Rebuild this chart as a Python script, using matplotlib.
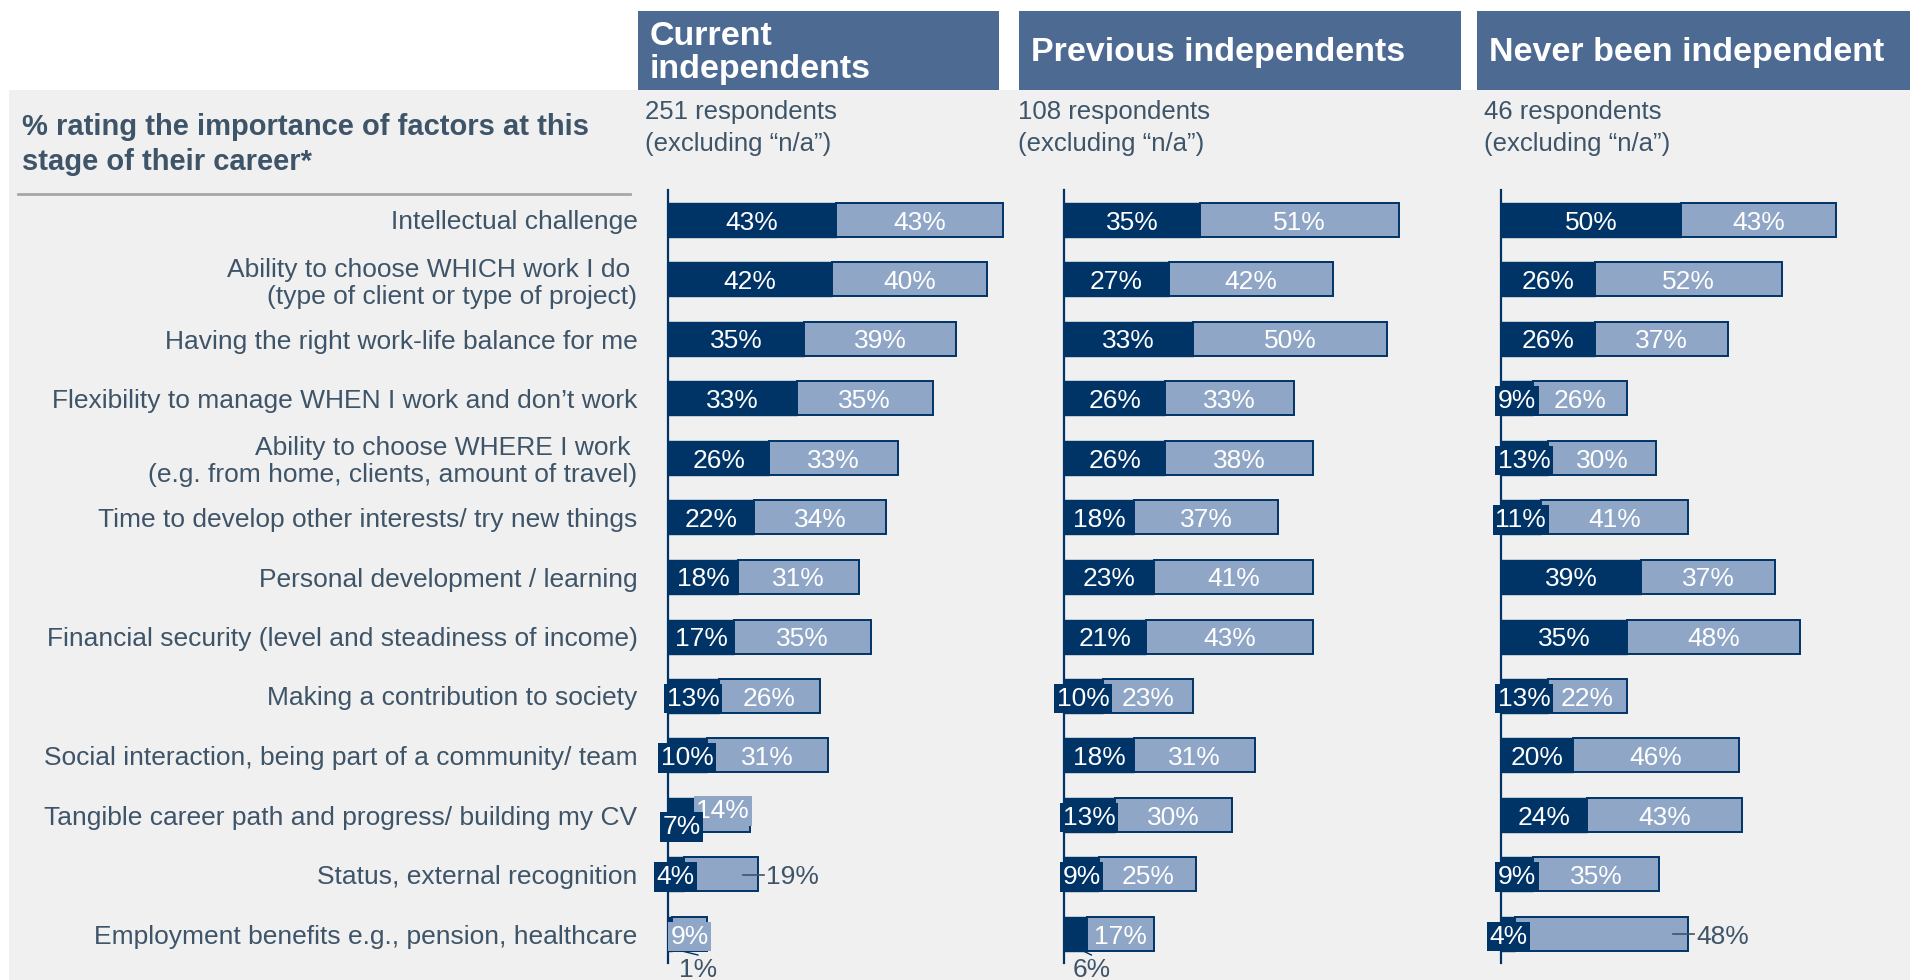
import matplotlib.pyplot as plt
from matplotlib.patches import Rectangle

plt.rcParams['font.family'] = ['Liberation Sans', 'DejaVu Sans']

factors = [
    'Intellectual challenge',
    'Ability to choose WHICH work I do \n(type of client or type of project)',
    'Having the right work-life balance for me',
    'Flexibility to manage WHEN I work and don’t work',
    'Ability to choose WHERE I work \n(e.g. from home, clients, amount of travel)',
    'Time to develop other interests/ try new things',
    'Personal development / learning',
    'Financial security (level and steadiness of income)',
    'Making a contribution to society',
    'Social interaction, being part of a community/ team',
    'Tangible career path and progress/ building my CV',
    'Status, external recognition',
    'Employment benefits e.g., pension, healthcare',
]
groups = ['Current\nindependents', 'Previous independents', 'Never been independent']
respondents = [251, 108, 46]

# dark segment (first share) and light segment (second share), per group
dark_vals = [
    [43, 42, 35, 33, 26, 22, 18, 17, 13, 10, 7, 4, 1],
    [35, 27, 33, 26, 26, 18, 23, 21, 10, 18, 13, 9, 6],
    [50, 26, 26, 9, 13, 11, 39, 35, 13, 20, 24, 9, 4],
]
light_vals = [
    [43, 40, 39, 35, 33, 34, 31, 35, 26, 31, 14, 19, 9],
    [51, 42, 50, 33, 38, 37, 41, 43, 23, 31, 30, 25, 17],
    [43, 52, 37, 26, 30, 41, 37, 48, 22, 46, 43, 35, 48],
]

NAVY = '#003366'
LIGHT = '#8FA6C6'
HEAD = '#4D6A93'
SLATE = '#3E5468'
BG = '#F0F0F0'

W, H = 1910, 980
fig = plt.figure(figsize=(W / 100, H / 100), dpi=100)


def fx(x):
    return x / W


def fy(y):
    return 1 - y / H


# background and headers
fig.patches.append(Rectangle((fx(9), 0), 1 - fx(9), fy(90), transform=fig.transFigure,
                             facecolor=BG, edgecolor='none', zorder=-2))
header_x = [(638, 999), (1019, 1461), (1477, 1910)]
for (x0, x1), name in zip(header_x, groups):
    fig.patches.append(Rectangle((fx(x0), fy(90)), fx(x1 - x0), fy(11) - fy(90),
                                 transform=fig.transFigure, facecolor=HEAD,
                                 edgecolor='none', zorder=-1))
    fig.text(fx(x0 + 12), fy(53), name, color='white', fontsize=24.5, fontweight='bold',
             ha='left', va='center', linespacing=1.05)

resp_x = [645, 1018, 1484]
for x, n in zip(resp_x, respondents):
    fig.text(fx(x), fy(100), f'{n} respondents\n(excluding “n/a”)', color=SLATE,
             fontsize=18.5, ha='left', va='top', linespacing=1.4)

fig.text(fx(22), fy(113), '% rating the importance of factors at this\nstage of their career*',
         color=SLATE, fontsize=21, fontweight='bold', ha='left', va='top', linespacing=1.3)
fig.add_artist(plt.Line2D([fx(18), fx(630)], [fy(194), fy(194)], color='#A6A6A6', lw=2))

# panel geometry
axis_x = [668, 1064, 1501]
ax_w = 350
top, bottom = 190, 963
row_px = 59.5
bar_h = 34 / row_px
n = len(factors)
lab_fs = 19
lab_px = lab_fs / 0.72
nudge = 2.5 / row_px  # digits sit above the layout centre, push them down a bit

# label placement tweaks
dark_shift = {(0, 10): 9.5}
light_shift = {(0, 10): -6.5}
outside_light = {(0, 11), (2, 12)}
below_dark = {(0, 12): (10, 26), (1, 12): (-4, 4)}


def label_box(value, scale, color):
    # think-cell style: a coloured box only when the label is wider than its segment
    text_w = (0.556 * len(str(value)) + 0.889) * lab_px
    if value * scale < text_w + 6:
        return dict(boxstyle='square,pad=0.1', fc=color, ec='none')
    return None


for k in range(3):
    dv, lv = dark_vals[k], light_vals[k]
    totals = [a + b for a, b in zip(dv, lv)]
    xmax = max(totals) * ax_w / 335
    scale = ax_w / xmax
    ax = fig.add_axes([fx(axis_x[k]), fy(bottom), fx(ax_w), fy(top) - fy(bottom)])
    ax.set_facecolor('none')
    ax.set_xlim(0, xmax)
    ax.set_ylim(n - 1 + (bottom - 934) / row_px, -30 / row_px)
    rows = list(range(n))
    ax.barh(rows, dv, height=bar_h, color=NAVY, edgecolor=NAVY, lw=1, zorder=2)
    ax.barh(rows, lv, left=dv, height=bar_h, color=LIGHT, edgecolor=NAVY, lw=1.4, zorder=2)
    for s in ['top', 'right', 'bottom']:
        ax.spines[s].set_visible(False)
    ax.spines['left'].set_color(NAVY)
    ax.spines['left'].set_linewidth(1.6)
    ax.set_xticks([])
    if k == 0:
        ax.set_yticks(rows)
        ax.set_yticklabels(factors, fontsize=19, color=SLATE, linespacing=1.15)
        ax.tick_params(axis='y', length=0, pad=22)
    else:
        ax.set_yticks([])

    for i in rows:
        d, l = dv[i], lv[i]
        # dark label
        if (k, i) in below_dark:
            dx0, dx1 = below_dark[(k, i)]
            yb = i + bar_h / 2
            ax.plot([d + dx0 / scale, d + dx1 / scale], [yb, yb + 4 / row_px],
                    color=NAVY, lw=1, zorder=3, clip_on=False)
            ax.text(d + dx1 / scale, yb + 19 / row_px, f'{d}%', color=SLATE, fontsize=lab_fs,
                    ha='center', va='center', clip_on=False)
        else:
            ax.text(d / 2, i + nudge + dark_shift.get((k, i), 0) / row_px, f'{d}%',
                    color='white', fontsize=lab_fs, ha='center', va='center', zorder=4,
                    bbox=label_box(d, scale, NAVY))
        # light label
        if (k, i) in outside_light:
            t = d + l
            ax.plot([t - 15 / scale, t + 6 / scale], [i, i], color=SLATE, lw=1.2,
                    zorder=3, clip_on=False)
            ax.text(t + 8 / scale, i + nudge, f'{l}%', color=SLATE, fontsize=lab_fs,
                    ha='left', va='center', clip_on=False)
        else:
            ax.text(d + l / 2, i + nudge + light_shift.get((k, i), 0) / row_px, f'{l}%',
                    color='white', fontsize=lab_fs, ha='center', va='center', zorder=3.5,
                    bbox=label_box(l, scale, LIGHT))

fig.savefig('out.png', dpi=100, facecolor='white')
